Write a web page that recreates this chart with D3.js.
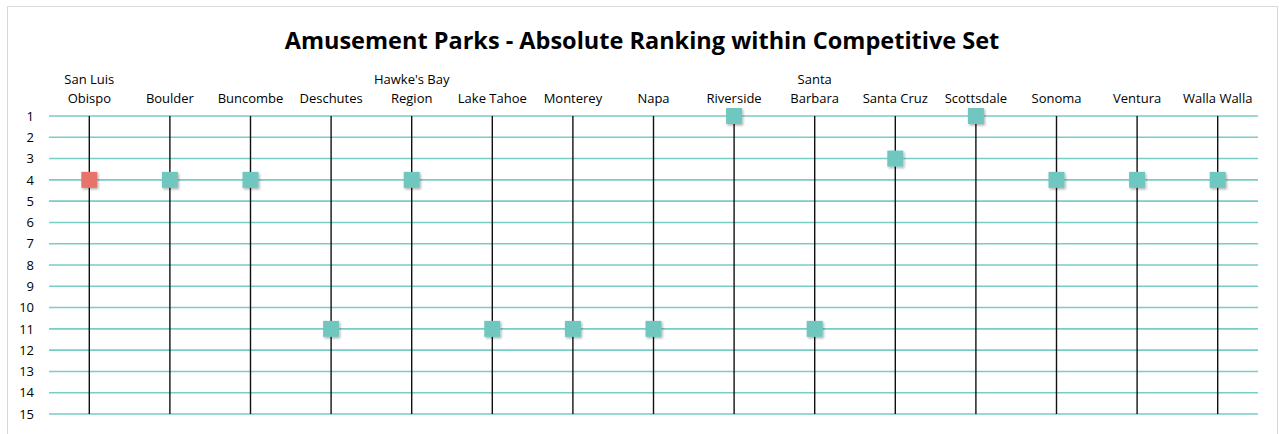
<!DOCTYPE html>
<html>
<head>
<meta charset="utf-8">
<script src="https://cdn.jsdelivr.net/npm/d3@7"></script>
<style>
  body { margin: 0; background: #fff; }
  text { font-family: "Open Sans", sans-serif; fill: #000; }
  .title { font-weight: bold; font-size: 23.5px; }
  .axis text { font-size: 13px; }
</style>
</head>
<body>
<div id="chart"></div>
<script>
// categories, with their wrapped label lines
var categories = ["San Luis Obispo", "Boulder", "Buncombe", "Deschutes", "Hawke's Bay Region",
  "Lake Tahoe", "Monterey", "Napa", "Riverside", "Santa Barbara", "Santa Cruz",
  "Scottsdale", "Sonoma", "Ventura", "Walla Walla"];
var labelLines = [["San Luis", "Obispo"], ["Boulder"], ["Buncombe"], ["Deschutes"], ["Hawke's Bay", "Region"],
  ["Lake Tahoe"], ["Monterey"], ["Napa"], ["Riverside"], ["Santa", "Barbara"], ["Santa Cruz"],
  ["Scottsdale"], ["Sonoma"], ["Ventura"], ["Walla Walla"]];
var ranks = [4, 4, 4, 11, 4, 11, 11, 11, 1, 11, 3, 1, 4, 4, 4];
var highlight = ["San Luis Obispo"];
var rankTicks = d3.range(1, 16);

var svgWidth = 1279, svgHeight = 434;
var margin = {top: 116, left: 49, right: 21, bottom: 20};
var width = svgWidth - margin.left - margin.right;
var height = 414 - margin.top;

var svg = d3.select("#chart")
    .append("svg")
    .attr("width", svgWidth)
    .attr("height", svgHeight);

// chart border
svg.append("rect")
    .attr("x", 7.5).attr("y", 6.5)
    .attr("width", 1270).attr("height", 440)
    .attr("fill", "#fff")
    .attr("stroke", "#d9d9d9");

svg.append("text")
    .attr("class", "title")
    .attr("x", 642).attr("y", 49)
    .attr("text-anchor", "middle")
    .text("Amusement Parks - Absolute Ranking within Competitive Set");

var g = svg.append("g")
    .attr("transform", "translate(" + margin.left + "," + margin.top + ")");

var x = d3.scaleBand().domain(categories).range([0, width]);
var y = d3.scaleLinear().domain([1, 15]).range([0, height]);

// horizontal grid lines
g.append("g")
    .selectAll("line")
    .data(rankTicks)
    .join("line")
    .attr("x1", 0).attr("x2", width)
    .attr("y1", d => y(d)).attr("y2", d => y(d))
    .attr("stroke", "#78cdc5")
    .attr("stroke-width", 1.6);

// y axis labels
var yAxis = d3.axisLeft(y).tickValues(rankTicks).tickSize(0).tickPadding(15);
g.append("g")
    .attr("class", "axis")
    .call(yAxis)
    .call(a => a.select(".domain").remove());

// vertical drop lines
g.append("g")
    .selectAll("line")
    .data(categories)
    .join("line")
    .attr("x1", d => x(d) + x.bandwidth() / 2)
    .attr("x2", d => x(d) + x.bandwidth() / 2)
    .attr("y1", y(1)).attr("y2", y(15))
    .attr("stroke", "#111")
    .attr("stroke-width", 1.4);

// category labels on top
var xAxis = d3.axisTop(x).tickSize(0).tickPadding(0).tickFormat("");
var xg = g.append("g")
    .attr("class", "axis")
    .call(xAxis);
xg.select(".domain").remove();
xg.selectAll(".tick").each(function (d, i) {
    var lines = labelLines[i];
    var t = d3.select(this).append("text")
        .attr("text-anchor", "middle")
        .attr("y", -13 - (lines.length - 1) * 19.5);
    lines.forEach(function (s, j) {
        t.append("tspan").attr("x", 0).attr("dy", j === 0 ? 0 : 19.5).text(s);
    });
});

// shadow filter
var defs = svg.append("defs");
var f = defs.append("filter").attr("id", "shadow")
    .attr("x", "-50%").attr("y", "-50%").attr("width", "200%").attr("height", "200%");
f.append("feDropShadow")
    .attr("dx", 1.2).attr("dy", 1.5)
    .attr("stdDeviation", 1.2)
    .attr("flood-color", "#000")
    .attr("flood-opacity", 0.3);

var size = 16;
g.append("g")
    .selectAll("rect")
    .data(categories)
    .join("rect")
    .attr("x", d => x(d) + x.bandwidth() / 2 - size / 2)
    .attr("y", (d, i) => y(ranks[i]) - size / 2)
    .attr("width", size).attr("height", size)
    .attr("fill", d => highlight.indexOf(d) >= 0 ? "#e8736b" : "#6fc7bf")
    .attr("filter", "url(#shadow)");
</script>
</body>
</html>
